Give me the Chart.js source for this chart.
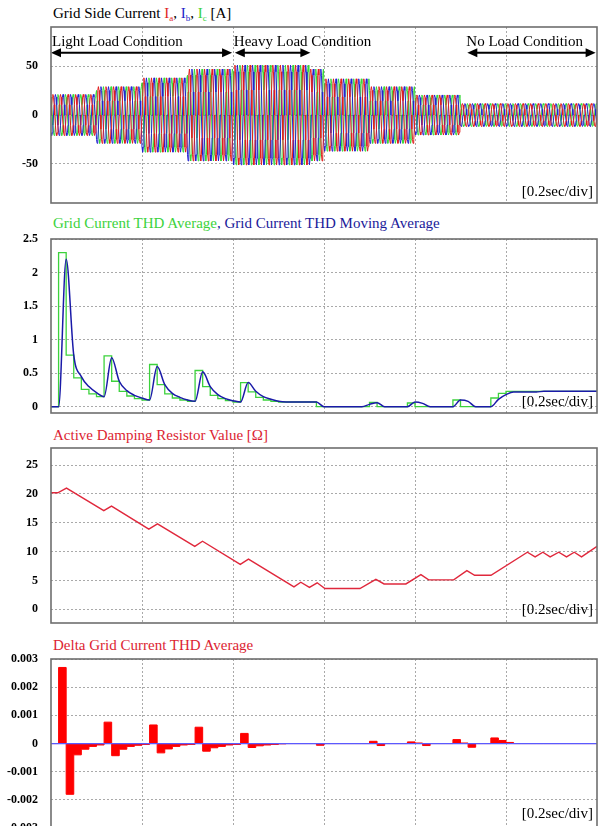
<!DOCTYPE html>
<html>
<head>
<meta charset="utf-8">
<script src="https://cdn.jsdelivr.net/npm/chart.js@4.4.0/dist/chart.umd.min.js"></script>
<style>
  body { margin: 0; background: #fff; width: 599px; height: 826px; overflow: hidden; position: relative;
         font-family: "Liberation Serif", "DejaVu Serif", serif; }
  canvas { position: absolute; left: 0; }
  .txt { position: absolute; font-size: 15px; line-height: 15px; white-space: nowrap; }
  .txt sub { font-size: 9px; position: relative; top: 3px; vertical-align: baseline; }
</style>
</head>
<body>

<div class="txt" style="left:53px; top:6px">Grid Side Current <span style="color:#e01e1e">I<sub>a</sub></span>, <span style="color:#2323c8">I<sub>b</sub></span>, <span style="color:#3cd23c">I<sub>c</sub></span> [A]</div>
<canvas id="currentChart" width="599" height="186" style="top:19px"></canvas>
<div class="txt" style="right:6px; top:184px">[0.2sec/div]</div>

<div class="txt" style="left:53px; top:216px"><span style="color:#3cd23c">Grid Current THD Average</span><span style="color:#1a1a9a">, Grid Current THD Moving Average</span></div>
<canvas id="thdChart" width="599" height="184" style="top:231px"></canvas>
<div class="txt" style="right:6px; top:394px">[0.2sec/div]</div>

<div class="txt" style="left:53px; top:428px; color:#dc1e32">Active Damping Resistor Value [Ω]</div>
<canvas id="resistorChart" width="599" height="185" style="top:440px"></canvas>
<div class="txt" style="right:6px; top:602px">[0.2sec/div]</div>

<div class="txt" style="left:53px; top:638px; color:#dc1e32">Delta Grid Current THD Average</div>
<canvas id="deltaChart" width="599" height="189" style="top:651px"></canvas>
<div class="txt" style="right:6px; top:806px">[0.2sec/div]</div>

<script>
// time axis, 0.2 s per division
const timeGridTicks = [0.2, 0.4, 0.6, 0.8, 1.0];
const cyclePeriod = 1 / 60;

// grid side currents: amplitude of each load step [A]
const loadStepStart = [0, 0.1, 0.2, 0.3, 0.4, 0.57, 0.6, 0.7, 0.8, 0.9];
const loadStepAmplitude = [21, 29, 38, 47, 51, 47, 37, 29, 20.5, 11.7];
// one grid period in per unit, 12 samples
const unitWave = [0, 0.5, 0.866, 1, 0.866, 0.5, 0, -0.5, -0.866, -1, -0.866, -0.5];
const currentTicks = [-50, 0, 50];

const loadLabels = ['Light Load Condition', 'Heavy Load Condition', 'No Load Condition'];
const loadSpanFrom = [0, 0.404, 0.915];
const loadSpanTo = [0.398, 0.57, 1.197];
const arrowLevel = 63.7;
const labelLevel = 70.6;

// THD, one value per grid cycle
const thdAverage = [
    0, 2.30, 0.77, 0.43, 0.26, 0.19, 0.15,
    0.76, 0.38, 0.23, 0.16, 0.12, 0.10,
    0.63, 0.33, 0.19, 0.13, 0.10, 0.08,
    0.54, 0.30, 0.17, 0.12, 0.09, 0.07,
    0.36, 0.22, 0.14, 0.10, 0.08, 0.07, 0.07, 0.07, 0.07, 0.07,
    0, 0, 0, 0, 0, 0, 0,
    0.065, 0, 0, 0, 0,
    0.055, 0, 0, 0, 0, 0,
    0.10, 0, 0, 0, 0,
    0.13, 0.20,
    0.23, 0.23, 0.23, 0.23, 0.23, 0.23, 0.23, 0.23, 0.23, 0.23, 0.23, 0.23
];
// moving average, at every cycle boundary
const thdMovingAverage = [
    0, 0, 2.20, 0.77, 0.45, 0.30, 0.21,
    0.15, 0.73, 0.38, 0.24, 0.17, 0.13,
    0.10, 0.60, 0.33, 0.20, 0.14, 0.10,
    0.08, 0.52, 0.30, 0.18, 0.12, 0.09,
    0.07, 0.36, 0.23, 0.15, 0.11, 0.08, 0.07, 0.07, 0.07, 0.07,
    0.07, 0, 0, 0, 0, 0, 0,
    0.035, 0.06, 0, 0, 0,
    0, 0.07, 0.05, 0, 0, 0,
    0, 0.10, 0.08, 0, 0,
    0, 0.11,
    0.18, 0.22, 0.22, 0.22, 0.22, 0.23, 0.23, 0.23, 0.23, 0.23, 0.23, 0.23, 0.23
];
const thdTicks = [0, 0.5, 1, 1.5, 2, 2.5];

// active damping resistor [ohm]
const resistorTimes = [0, 0.015, 0.034, 0.116, 0.133, 0.215, 0.234, 0.316, 0.333, 0.416, 0.434,
    0.534, 0.549, 0.568, 0.585, 0.602, 0.679, 0.714, 0.732, 0.78, 0.813, 0.830, 0.885, 0.914,
    0.931, 0.967, 1.047, 1.064, 1.081, 1.097, 1.116, 1.133, 1.150, 1.166, 1.2];
const resistorValues = [20.2, 20.2, 21.0, 17.1, 17.9, 13.9, 14.8, 10.9, 11.8, 7.8, 8.7,
    3.9, 4.7, 3.8, 4.6, 3.6, 3.6, 5.2, 4.4, 4.4, 6.0, 5.1, 5.1, 6.7,
    5.9, 5.9, 9.9, 9.1, 9.9, 9.1, 9.9, 9.1, 9.9, 9.1, 10.9];
const resistorTicks = [0, 5, 10, 15, 20, 25];

// delta THD average, one value per grid cycle
const deltaThd = [
    0, 0.0027, -0.0018, -0.0004, -0.0002, -0.0001, -0.00005,
    0.00076, -0.00043, -0.0002, -0.0001, -0.00006, -0.00003,
    0.00066, -0.00033, -0.00019, -0.0001, -0.00005, -0.00003,
    0.00058, -0.00027, -0.00015, -0.0001, -0.00005, -0.00003,
    0.00036, -0.00014, -0.00008, -0.00005, -0.00003, -0.00001, 0, 0, 0, 0,
    -0.00006, 0, 0, 0, 0, 0, 0,
    0.00008, -0.00007, 0, 0, 0,
    0.00006, 0.00002, -0.00007, 0, 0, 0,
    0.00014, 0.00002, -0.00013, 0, 0,
    0.0002, 0.00011,
    0.00004, 0, 0, 0, 0, 0, 0, 0, 0, 0, 0, 0
];
const deltaTicks = [-0.003, -0.002, -0.001, 0, 0.001, 0.002, 0.003];

const gridColor = '#a9a9a9';

const framePlugin = {
    id: 'frame',
    afterDraw(chart) {
        const a = chart.chartArea, ctx = chart.ctx;
        ctx.save();
        ctx.strokeStyle = '#6e6e6e';
        ctx.lineWidth = 1.6;
        ctx.strokeRect(a.left, a.top, a.right - a.left, a.bottom - a.top);
        ctx.restore();
    }
};

const loadPlugin = {
    id: 'loads',
    afterDatasetsDraw(chart) {
        const { ctx, scales: { x, y } } = chart;
        const ya = y.getPixelForValue(arrowLevel);
        ctx.save();
        ctx.fillStyle = '#000';
        ctx.strokeStyle = '#000';
        ctx.lineWidth = 2;
        ctx.font = '15px "Liberation Serif"';
        loadLabels.forEach((label, i) => {
            const x0 = x.getPixelForValue(loadSpanFrom[i]);
            const x1 = x.getPixelForValue(loadSpanTo[i]);
            ctx.beginPath();
            ctx.moveTo(x0 + 5, ya);
            ctx.lineTo(x1 - 5, ya);
            ctx.stroke();
            [[x0, 1], [x1, -1]].forEach(([px, d]) => {
                ctx.beginPath();
                ctx.moveTo(px, ya);
                ctx.lineTo(px + 10 * d, ya - 4.5);
                ctx.lineTo(px + 10 * d, ya + 4.5);
                ctx.closePath();
                ctx.fill();
            });
            ctx.fillText(label, x0 + (i === 0 ? 1 : -1), y.getPixelForValue(labelLevel));
        });
        ctx.restore();
    }
};

function panel(id, datasets, yMin, yMax, yTicks, extra) {
    return new Chart(document.getElementById(id), {
        type: 'line',
        data: { datasets: datasets },
        options: {
            responsive: false,
            animation: false,
            devicePixelRatio: 1,
            events: [],
            layout: { padding: { top: 8, right: 2, bottom: 2, left: 0 } },
            plugins: { legend: { display: false }, tooltip: { enabled: false } },
            elements: { point: { radius: 0 } },
            scales: {
                x: {
                    type: 'linear', min: 0, max: 1.2,
                    afterBuildTicks: s => { s.ticks = timeGridTicks.map(v => ({ value: v })); },
                    afterFit: s => { s.height = 0; s.paddingLeft = 0; s.paddingRight = 0; },
                    ticks: { display: false },
                    grid: { color: gridColor, drawTicks: false },
                    border: { display: false, dash: [2, 2] }
                },
                y: {
                    min: yMin, max: yMax,
                    afterBuildTicks: s => { s.ticks = yTicks.map(v => ({ value: v })); },
                    afterFit: s => { s.width = 51; s.paddingTop = 0; s.paddingBottom = 0; },
                    ticks: {
                        padding: 13, color: '#000',
                        font: { family: 'Liberation Serif', size: 12, weight: 'bold' },
                        callback: v => String(parseFloat(Number(v).toFixed(4)))
                    },
                    grid: { color: gridColor, drawTicks: false },
                    border: { display: false, dash: [2, 2] }
                }
            }
        },
        plugins: [framePlugin].concat(extra || [])
    });
}

// grid side currents
const samplesPerCycle = unitWave.length;
function phaseData(shift) {
    const pts = [];
    const n = Math.round(1.2 / cyclePeriod) * samplesPerCycle;
    for (let i = 0; i <= n; i++) {
        const t = i * cyclePeriod / samplesPerCycle;
        let seg = 0;
        while (seg + 1 < loadStepStart.length && loadStepStart[seg + 1] <= t + 1e-9) seg++;
        pts.push({ x: t, y: loadStepAmplitude[seg] * unitWave[(i + shift) % samplesPerCycle] });
    }
    return pts;
}

panel('currentChart', [
    { data: phaseData(0), borderColor: '#e01e1e', borderWidth: 1 },
    { data: phaseData(8), borderColor: '#2323d2', borderWidth: 1 },
    { data: phaseData(4), borderColor: '#37d837', borderWidth: 1 }
], -90, 90, currentTicks, [loadPlugin]);

// THD: each value holds until the next cycle boundary
const greenSteps = [{ x: 0, y: thdAverage[0] }];
thdAverage.forEach((v, k) => greenSteps.push({ x: (k + 1) * cyclePeriod, y: v }));

panel('thdChart', [
    { data: thdMovingAverage.map((v, k) => ({ x: k * cyclePeriod, y: v })),
      borderColor: '#1a1aa8', borderWidth: 1.5, cubicInterpolationMode: 'monotone' },
    { data: greenSteps, borderColor: '#3cd23c', borderWidth: 1.3, stepped: 'after' }
], -0.094, 2.503, thdTicks);

// active damping resistor
panel('resistorChart', [
    { data: resistorTimes.map((t, i) => ({ x: t, y: resistorValues[i] })),
      borderColor: '#e0283c', borderWidth: 1.4 }
], -2.37, 27.96, resistorTicks);

// delta THD
const deltaSteps = [{ x: 0, y: 0 }];
deltaThd.forEach((v, k) => deltaSteps.push({ x: (k + 1) * cyclePeriod, y: v }));

panel('deltaChart', [
    { data: [{ x: 0, y: 0 }, { x: 1.2, y: 0 }], borderColor: '#5a5aff', borderWidth: 1.2 },
    { data: deltaSteps, borderColor: '#ff0000', backgroundColor: '#ff0000', borderWidth: 1,
      stepped: 'after', fill: 'origin' }
], -0.00335, 0.003, deltaTicks);
</script>
</body>
</html>
